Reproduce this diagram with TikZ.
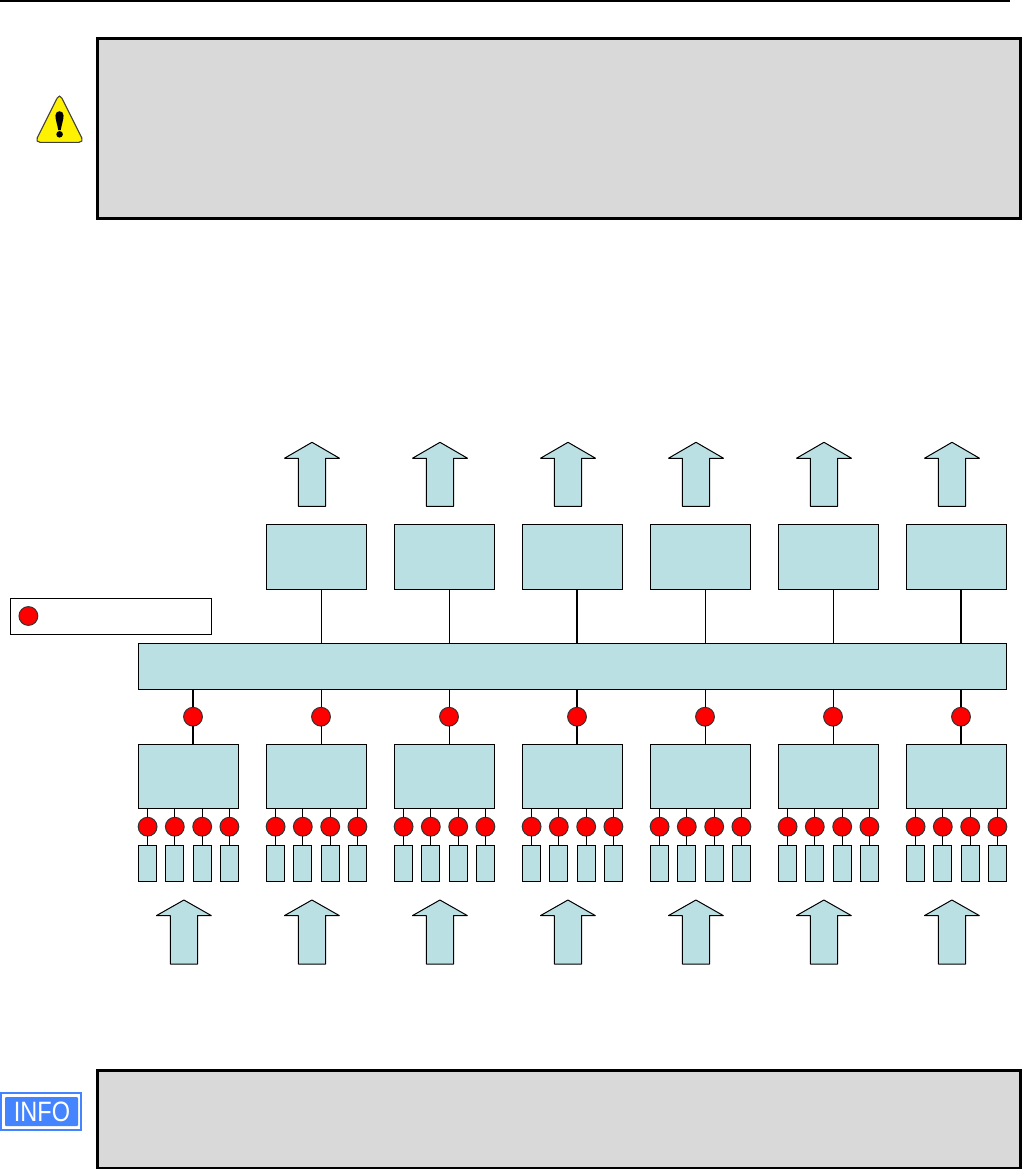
\documentclass[tikz,border=0pt]{standalone}
\usepackage{fontspec}
\setmainfont{Liberation Sans}
\definecolor{cellblue}{HTML}{BBE0E3}
\definecolor{notegray}{HTML}{D9D9D9}
\definecolor{infoblue}{HTML}{4485FF}
\tikzset{
  notebox/.style={draw=black,fill=notegray,line width=2.8pt},
  cellbox/.style={draw=black,fill=cellblue,line width=1pt,inner sep=0pt,outer sep=0pt,anchor=north west},
  wide/.style={cellbox,minimum width=100.2pt,minimum height=64pt},
  slot/.style={cellbox,minimum width=18.2pt,minimum height=36pt},
  port/.style={circle,draw=black!80,fill=red,line width=1pt,minimum size=18.8pt,inner sep=0pt,outer sep=0pt},
  wire/.style={draw=black,line width=1pt},
  heavywire/.style={draw=black,line width=2pt},
  bigarrow/.style={draw=black,fill=cellblue,line width=1pt,line join=bevel},
}
\begin{document}
\begin{tikzpicture}[x=1pt,y=-1pt]
\useasboundingbox (0,0) rectangle (1022,1170);
\fill[white] (0,0) rectangle (1022,1170);

% page header rule and note boxes
\fill[black] (0,0) rectangle (1009.5,2);
\draw[notebox] (97.4,38.5) rectangle (1020.6,218.4);
\draw[notebox] (97.4,1070.5) rectangle (1020.6,1168);

% warning icon
\draw[fill=yellow,draw=black!75,line width=1.1pt,rounded corners=5pt] (59.5,93.5) -- (84,142.3) -- (35,142.3) -- cycle;
\fill[black] (55.4,115.5) .. controls (55.4,109.8) and (63.6,109.8) .. (63.6,115.5)
  .. controls (63.6,120) and (61.2,126) .. (60.8,130) -- (58.2,130)
  .. controls (57.8,126) and (55.4,120) .. (55.4,115.5) -- cycle;
\fill[black] (59.6,134.3) circle (3.3);

% info icon
\draw[draw=infoblue,fill=white,line width=2pt] (1,1093.3) rectangle (80.7,1129.7);
\fill[infoblue,rounded corners=1pt] (5,1097) rectangle (78,1126);
\node[text=white,inner sep=0pt,font=\fontsize{28}{28}\selectfont,xscale=.84,transform shape] (infotext) at (42,1111.5) {INFO};

% legend
\node[draw=black,line width=1pt,fill=white,minimum width=201pt,minimum height=36pt,inner sep=0pt,anchor=north west] (legend) at (10.4,598.3) {};
\node[port] (legendport) at (28.4,616) {};

% bus
\node[cellbox,minimum width=868.2pt,minimum height=46pt] (bus) at (138.4,643.4) {};

% upper boxes and arrows
\foreach \i/\wirekind in {1/wire,2/wire,3/heavywire,4/wire,5/wire,6/heavywire}{
  \pgfmathsetmacro{\cx}{266.4+128*(\i-1)}
  \node[wide,minimum height=64.6pt] (up\i) at (\cx,524.4) {};
  \coordinate (uptap\i) at ({\cx+54.6},589);
  \draw[\wirekind] (uptap\i) -- (uptap\i |- bus.north);
  \pgfmathsetmacro{\ax}{\cx+45.6}
  \draw[bigarrow] (\ax,442.3) -- ({\ax+27.6},458.3) -- ({\ax+13.6},458.3) -- ({\ax+13.6},506.3)
    -- ({\ax-13.6},506.3) -- ({\ax-13.6},458.3) -- ({\ax-27.6},458.3) -- cycle;
}

% lower columns
\foreach \c/\wirekind in {1/heavywire,2/wire,3/wire,4/heavywire,5/wire,6/wire,7/heavywire}{
  \pgfmathsetmacro{\cx}{138.4+128*(\c-1)}
  \node[wide] (low\c) at (\cx,744.4) {};
  \node[port] (mid\c) at ({\cx+54.6},716.7) {};
  \draw[\wirekind] (mid\c) -- (mid\c |- bus.south);
  \draw[\wirekind] (mid\c) -- (mid\c |- low\c.north);
  \foreach \k/\off/\pos in {1/0/9.2,2/27.3/36.4,3/54.6/63.8,4/82/91}{
    \node[slot] (slot\c-\k) at ({\cx+\off},845.4) {};
    \node[port] (pin\c-\k) at ({\cx+\pos},826.7) {};
    \draw[wire] (pin\c-\k) -- (pin\c-\k |- low\c.south);
    \draw[wire] (pin\c-\k) -- (pin\c-\k |- slot\c-\k.north);
  }
  \pgfmathsetmacro{\ax}{\cx+45.5}
  \draw[bigarrow] (\ax,900) -- ({\ax+27.6},915.7) -- ({\ax+13.6},915.7) -- ({\ax+13.6},964)
    -- ({\ax-13.6},964) -- ({\ax-13.6},915.7) -- ({\ax-27.6},915.7) -- cycle;
}
\end{tikzpicture}
\end{document}
